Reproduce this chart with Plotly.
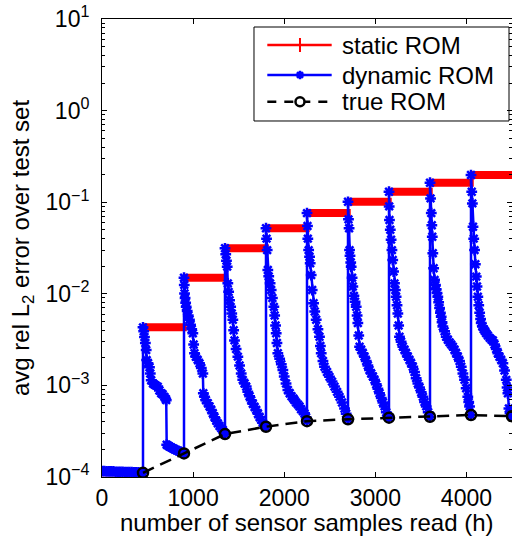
import plotly.graph_objects as go

# ---- data -------------------------------------------------------------
# block boundaries (sensor samples read) and the static ROM error level per block
block_edges = [0, 450, 900, 1350, 1800, 2250, 2700, 3150, 3600, 4050, 4500]
static_levels = [1.13e-4, 4.3e-3, 1.5e-2, 3.14e-2, 5.2e-2, 7.6e-2, 0.101, 0.130, 0.163, 0.198]

# dynamic ROM error, block by block
dyn_x_0 = [0, 25, 50, 75, 100, 125, 150, 175, 200, 225, 250, 275, 300, 325, 350, 375, 400, 425, 450]
dyn_y_0 = [1.16e-4, 1.16e-4, 1.15e-4, 1.15e-4, 1.15e-4, 1.15e-4, 1.14e-4, 1.14e-4, 1.14e-4, 1.14e-4,
           1.13e-4, 1.13e-4, 1.13e-4, 1.13e-4, 1.12e-4, 1.12e-4, 1.12e-4, 1.11e-4, 1.11e-4]

dyn_x_1 = [450, 458, 466, 476, 485, 490, 505, 521, 530, 540, 560, 575, 590, 612, 630, 650, 665, 686,
           700, 705, 710, 725, 740, 760, 780, 800, 820, 840, 860, 880, 900]
dyn_y_1 = [4.3e-3, 3.9e-3, 3.37e-3, 2.9e-3, 2.43e-3, 1.89e-3, 1.75e-3, 1.58e-3, 1.35e-3, 1.14e-3,
           1.05e-3, 1.02e-3, 1.0e-3, 9.7e-4, 8.8e-4, 8.2e-4, 8.0e-4, 7.5e-4, 7.1e-4, 6.9e-4,
           2.25e-4, 2.2e-4, 2.15e-4, 2.1e-4, 2.05e-4, 2.0e-4, 1.96e-4, 1.92e-4, 1.88e-4, 1.84e-4, 1.81e-4]

dyn_x_2 = [900, 903, 906, 912, 918, 924, 935, 947, 960, 972, 985, 997, 1006, 1015, 1030, 1050, 1070,
           1090, 1107, 1112, 1125, 1140, 1161, 1180, 1200, 1216, 1235, 1255, 1271, 1290, 1310, 1326,
           1340, 1350]
dyn_y_2 = [1.5e-2, 1.25e-2, 1.01e-2, 9.0e-3, 8.0e-3, 7.2e-3, 6.5e-3, 5.8e-3, 5.2e-3, 4.6e-3, 4.1e-3,
           3.7e-3, 2.8e-3, 2.24e-3, 2.05e-3, 1.9e-3, 1.74e-3, 1.55e-3, 1.35e-3, 8.2e-4, 7.5e-4,
           6.9e-4, 6.4e-4, 5.9e-4, 5.4e-4, 4.95e-4, 4.5e-4, 4.1e-4, 3.85e-4, 3.6e-4, 3.4e-4,
           3.26e-4, 3.05e-4, 2.94e-4]

dyn_x_3 = [1350, 1358, 1366, 1374, 1381, 1390, 1400, 1412, 1424, 1436, 1445, 1454, 1472, 1491, 1510,
           1528, 1545, 1565, 1583, 1600, 1620, 1638, 1655, 1675, 1693, 1712, 1730, 1748, 1765, 1780,
           1795, 1800]
dyn_y_3 = [3.14e-2, 2.7e-2, 2.3e-2, 1.98e-2, 1.3e-2, 1.05e-2, 8.5e-3, 7.2e-3, 6.1e-3, 5.2e-3, 4.0e-3,
           3.1e-3, 2.5e-3, 2.06e-3, 1.65e-3, 1.35e-3, 1.15e-3, 1.05e-3, 9.7e-4, 8.5e-4, 7.6e-4,
           6.9e-4, 6.3e-4, 5.8e-4, 5.4e-4, 4.9e-4, 4.5e-4, 4.2e-4, 3.9e-4, 3.7e-4, 3.56e-4, 3.54e-4]

dyn_x_4 = [1800, 1806, 1813, 1820, 1830, 1845, 1857, 1870, 1886, 1895, 1905, 1912, 1920, 1930, 1950,
           1968, 1985, 2000, 2020, 2040, 2060, 2080, 2100, 2113, 2130, 2150, 2168, 2185, 2205, 2223,
           2240, 2250]
dyn_y_4 = [5.2e-2, 4.0e-2, 3.0e-2, 1.82e-2, 1.55e-2, 1.3e-2, 1.1e-2, 9.0e-3, 7.2e-3, 5.8e-3, 4.5e-3,
           3.7e-3, 2.9e-3, 2.24e-3, 1.95e-3, 1.7e-3, 1.47e-3, 1.25e-3, 1.05e-3, 8.9e-4, 8.2e-4,
           7.6e-4, 7.2e-4, 6.9e-4, 6.5e-4, 6.2e-4, 5.9e-4, 5.5e-4, 5.2e-4, 4.95e-4, 4.5e-4, 4.07e-4]

dyn_x_5 = [2250, 2255, 2259, 2268, 2278, 2285, 2296, 2307, 2322, 2335, 2351, 2370, 2387, 2397, 2406,
           2425, 2442, 2470, 2497, 2525, 2552, 2580, 2607, 2635, 2662, 2680, 2700]
dyn_y_5 = [7.6e-2, 5.5e-2, 4.0e-2, 3.0e-2, 2.54e-2, 2.15e-2, 1.6e-2, 1.1e-2, 7.9e-3, 6.4e-3, 5.2e-3,
           4.1e-3, 3.4e-3, 2.7e-3, 2.24e-3, 1.85e-3, 1.6e-3, 1.4e-3, 1.24e-3, 1.1e-3, 9.7e-4,
           8.5e-4, 7.5e-4, 6.5e-4, 5.6e-4, 4.9e-4, 4.27e-4]

dyn_x_6 = [2700, 2705, 2712, 2717, 2722, 2730, 2735, 2745, 2753, 2765, 2778, 2790, 2800, 2808, 2818,
           2827, 2845, 2863, 2881, 2900, 2918, 2936, 2955, 2973, 2991, 3010, 3028, 3046, 3065, 3083,
           3101, 3120, 3135, 3150]
dyn_y_6 = [0.101, 6.5e-2, 5.2e-2, 3.0e-2, 2.6e-2, 2.2e-2, 1.98e-2, 1.5e-2, 1.2e-2, 9.5e-3, 8.2e-3,
           7.2e-3, 5.8e-3, 4.8e-3, 3.5e-3, 2.65e-3, 2.45e-3, 2.25e-3, 2.06e-3, 1.85e-3, 1.65e-3,
           1.47e-3, 1.35e-3, 1.25e-3, 1.15e-3, 1.03e-3, 9.2e-4, 8.2e-4, 7.3e-4, 6.5e-4, 5.9e-4,
           5.1e-4, 4.6e-4, 4.44e-4]

dyn_x_7 = [3150, 3152, 3155, 3164, 3173, 3182, 3191, 3200, 3210, 3220, 3228, 3238, 3247, 3256, 3265,
           3283, 3302, 3320, 3338, 3356, 3375, 3393, 3411, 3430, 3448, 3467, 3485, 3504, 3522, 3540,
           3559, 3580, 3600]
dyn_y_7 = [0.130, 9.0e-2, 6.4e-2, 5.0e-2, 3.9e-2, 3.0e-2, 2.34e-2, 1.75e-2, 1.3e-2, 1.1e-2, 9.3e-3,
           7.5e-3, 6.1e-3, 4.5e-3, 3.4e-3, 3.0e-3, 2.65e-3, 2.45e-3, 2.25e-3, 2.06e-3, 1.9e-3,
           1.75e-3, 1.6e-3, 1.4e-3, 1.2e-3, 1.05e-3, 9.5e-4, 8.4e-4, 7.5e-4, 6.6e-4, 5.9e-4,
           5.1e-4, 4.55e-4]

dyn_x_8 = [3600, 3606, 3614, 3620, 3625, 3631, 3640, 3650, 3660, 3668, 3677, 3686, 3695, 3705, 3714,
           3723, 3732, 3741, 3760, 3778, 3796, 3815, 3833, 3851, 3869, 3887, 3905, 3924, 3943, 3961,
           3979, 3997, 4015, 4025, 4034, 4050]
dyn_y_8 = [0.163, 0.11, 7.6e-2, 5.6e-2, 4.2e-2, 2.77e-2, 1.9e-2, 1.42e-2, 1.25e-2, 1.12e-2, 1.02e-2,
           9.3e-3, 8.1e-3, 7.0e-3, 6.2e-3, 5.6e-3, 4.9e-3, 4.4e-3, 3.9e-3, 3.4e-3, 3.15e-3, 2.95e-3,
           2.8e-3, 2.65e-3, 2.45e-3, 2.25e-3, 2.06e-3, 1.85e-3, 1.6e-3, 1.35e-3, 1.15e-3, 9.3e-4,
           7.5e-4, 6.6e-4, 5.9e-4, 4.75e-4]

dyn_x_9 = [4050, 4058, 4065, 4072, 4080, 4089, 4098, 4108, 4116, 4125, 4135, 4145, 4155, 4162, 4175,
           4190, 4205, 4217, 4235, 4255, 4275, 4290, 4308, 4327, 4345, 4363, 4382, 4400, 4418, 4437,
           4446, 4455, 4466, 4478, 4490, 4500]
dyn_y_9 = [0.198, 0.13, 9.7e-2, 5.4e-2, 4.0e-2, 3.0e-2, 2.1e-2, 1.54e-2, 1.2e-2, 9.3e-3, 7.5e-3,
           6.2e-3, 5.3e-3, 4.8e-3, 4.4e-3, 4.1e-3, 3.9e-3, 3.7e-3, 3.5e-3, 3.3e-3, 3.15e-3, 3.1e-3,
           2.8e-3, 2.5e-3, 2.24e-3, 2.05e-3, 1.9e-3, 1.74e-3, 1.45e-3, 1.15e-3, 9.5e-4, 8.2e-4,
           5.6e-4, 5.0e-4, 4.7e-4, 4.6e-4]

# true ROM error at the end of each block
true_x = [450, 900, 1350, 1800, 2250, 2700, 3150, 3600, 4050, 4500]
true_y = [1.11e-4, 1.81e-4, 2.94e-4, 3.54e-4, 4.07e-4, 4.27e-4, 4.44e-4, 4.55e-4, 4.75e-4, 4.6e-4]

x_ticks = [0, 1000, 2000, 3000, 4000]
y_tick_exps = [-4, -3, -2, -1, 0, 1]
legend_names = ["static ROM", "dynamic ROM", "true ROM"]

# ---- styling ----------------------------------------------------------
FONT = "Liberation Sans, Arial, Helvetica, sans-serif"
RED = "rgb(255,0,0)"
BLUE = "rgb(0,0,255)"

dyn_x = dyn_x_0 + dyn_x_1 + dyn_x_2 + dyn_x_3 + dyn_x_4 + dyn_x_5 + dyn_x_6 + dyn_x_7 + dyn_x_8 + dyn_x_9
dyn_y = dyn_y_0 + dyn_y_1 + dyn_y_2 + dyn_y_3 + dyn_y_4 + dyn_y_5 + dyn_y_6 + dyn_y_7 + dyn_y_8 + dyn_y_9

static_line = dict(color=RED, width=2.5)
static_marker = dict(symbol="cross-thin-open", size=9, color=RED, line=dict(color=RED, width=2))
dyn_line = dict(color=BLUE, width=2.5)
dyn_marker = dict(symbol="asterisk-open", size=9, color=BLUE, line=dict(color=BLUE, width=2.5))
true_line = dict(color="black", width=2.5, dash="12px,7px")
true_marker = dict(symbol="circle-open", size=10, color="black", line=dict(color="black", width=2.5))

fig = go.Figure()

# static ROM: thin step line plus the thick band of dense '+' markers
fig.add_trace(go.Scatter(
    x=block_edges, y=static_levels + [static_levels[-1]],
    mode="lines", line=dict(color=RED, width=2, shape="hv"),
    showlegend=False, hoverinfo="skip"))
band_x, band_y = [], []
for i, lvl in enumerate(static_levels):
    band_x += [block_edges[i], block_edges[i + 1] + 30, None]
    band_y += [lvl, lvl, None]
fig.add_trace(go.Scatter(
    x=band_x, y=band_y, mode="lines",
    line=dict(color=RED, width=8), showlegend=False, hoverinfo="skip"))

# dynamic ROM
fig.add_trace(go.Scatter(
    x=dyn_x, y=dyn_y, mode="lines+markers", line=dyn_line, marker=dyn_marker,
    showlegend=False))

# true ROM
fig.add_trace(go.Scatter(
    x=true_x, y=true_y, mode="lines+markers", line=true_line, marker=true_marker,
    showlegend=False))

# ---- legend box, drawn on an overlay axis in plot-fraction units --------
leg_left, leg_right, leg_top, leg_bottom = 0.3707, 0.9927, 0.9825, 0.7773
row_y = [0.9432, 0.8777, 0.8194]
key_x0, key_x1, key_mid, text_x = 0.4032, 0.5602, 0.4829, 0.5805

key_styles = [
    (dict(color=RED, width=2.5), dict(symbol="cross-thin-open", size=10, color=RED, line=dict(color=RED, width=2))),
    (dict(color=BLUE, width=2.5), dict(symbol="asterisk-open", size=7, color=BLUE, line=dict(color=BLUE, width=2.5))),
    (dict(color="black", width=2.5, dash="9px,8px"), dict(symbol="circle", size=9, color="white", line=dict(color="black", width=2.5))),
]
for ry, (ln, mk) in zip(row_y, key_styles):
    fig.add_trace(go.Scatter(
        x=[key_x0, key_x1], y=[ry, ry], mode="lines", line=ln,
        xaxis="x2", yaxis="y2", showlegend=False, hoverinfo="skip"))
    fig.add_trace(go.Scatter(
        x=[key_mid], y=[ry], mode="markers", marker=mk,
        xaxis="x2", yaxis="y2", showlegend=False, hoverinfo="skip"))

minor_vals = [k * 10.0 ** e for e in range(-4, 1) for k in range(2, 10)]

annotations = [
    dict(text="number of sensor samples read (h)", xref="paper", yref="paper",
         x=0.5, y=-0.1004, xanchor="center", yanchor="middle", showarrow=False,
         font=dict(family=FONT, size=24, color="black")),
    dict(text="avg rel L<sub>2</sub> error over test set", xref="paper", yref="paper",
         x=(22 - 102) / 410, y=0.5, xanchor="center", yanchor="middle", textangle=-90,
         showarrow=False, font=dict(family=FONT, size=24, color="black")),
]
for ry, name in zip(row_y, legend_names):
    annotations.append(dict(
        text=name, xref="paper", yref="paper", x=text_x, y=ry,
        xanchor="left", yanchor="middle", showarrow=False,
        font=dict(family=FONT, size=24, color="black")))

fig.update_layout(
    width=512, height=539,
    margin=dict(l=102, r=0, t=19, b=62),
    paper_bgcolor="white", plot_bgcolor="white",
    font=dict(family=FONT, size=23, color="black"),
    showlegend=False,
    xaxis=dict(
        range=[0, 4500], showgrid=False, zeroline=False,
        showline=True, linecolor="black", linewidth=1, mirror="ticks",
        ticks="inside", ticklen=5, tickcolor="black", tickwidth=1,
        tickvals=x_ticks, ticktext=[str(v) for v in x_ticks],
        tickfont=dict(family=FONT, size=23, color="black")),
    yaxis=dict(
        type="log", range=[-4, 1], showgrid=False, zeroline=False,
        showline=True, linecolor="black", linewidth=1, mirror="ticks",
        ticks="inside", ticklen=5, tickcolor="black", tickwidth=1,
        ticklabelstandoff=7,
        tickvals=[10.0 ** e for e in y_tick_exps],
        ticktext=["10<sup>" + ("\u2212" + str(-e) if e < 0 else str(e)) + "</sup>" for e in y_tick_exps],
        tickfont=dict(family=FONT, size=23, color="black"),
        minor=dict(ticks="inside", ticklen=3, tickcolor="black", tickwidth=1, tickvals=minor_vals)),
    xaxis2=dict(overlaying="x", range=[0, 1], visible=False, fixedrange=True),
    yaxis2=dict(overlaying="y", range=[0, 1], visible=False, fixedrange=True),
    shapes=[dict(type="rect", xref="paper", yref="paper",
                 x0=leg_left, x1=leg_right, y0=leg_bottom, y1=leg_top,
                 line=dict(color="black", width=1), fillcolor="white", layer="below")],
    annotations=annotations,
)

fig.write_html("out.html")
